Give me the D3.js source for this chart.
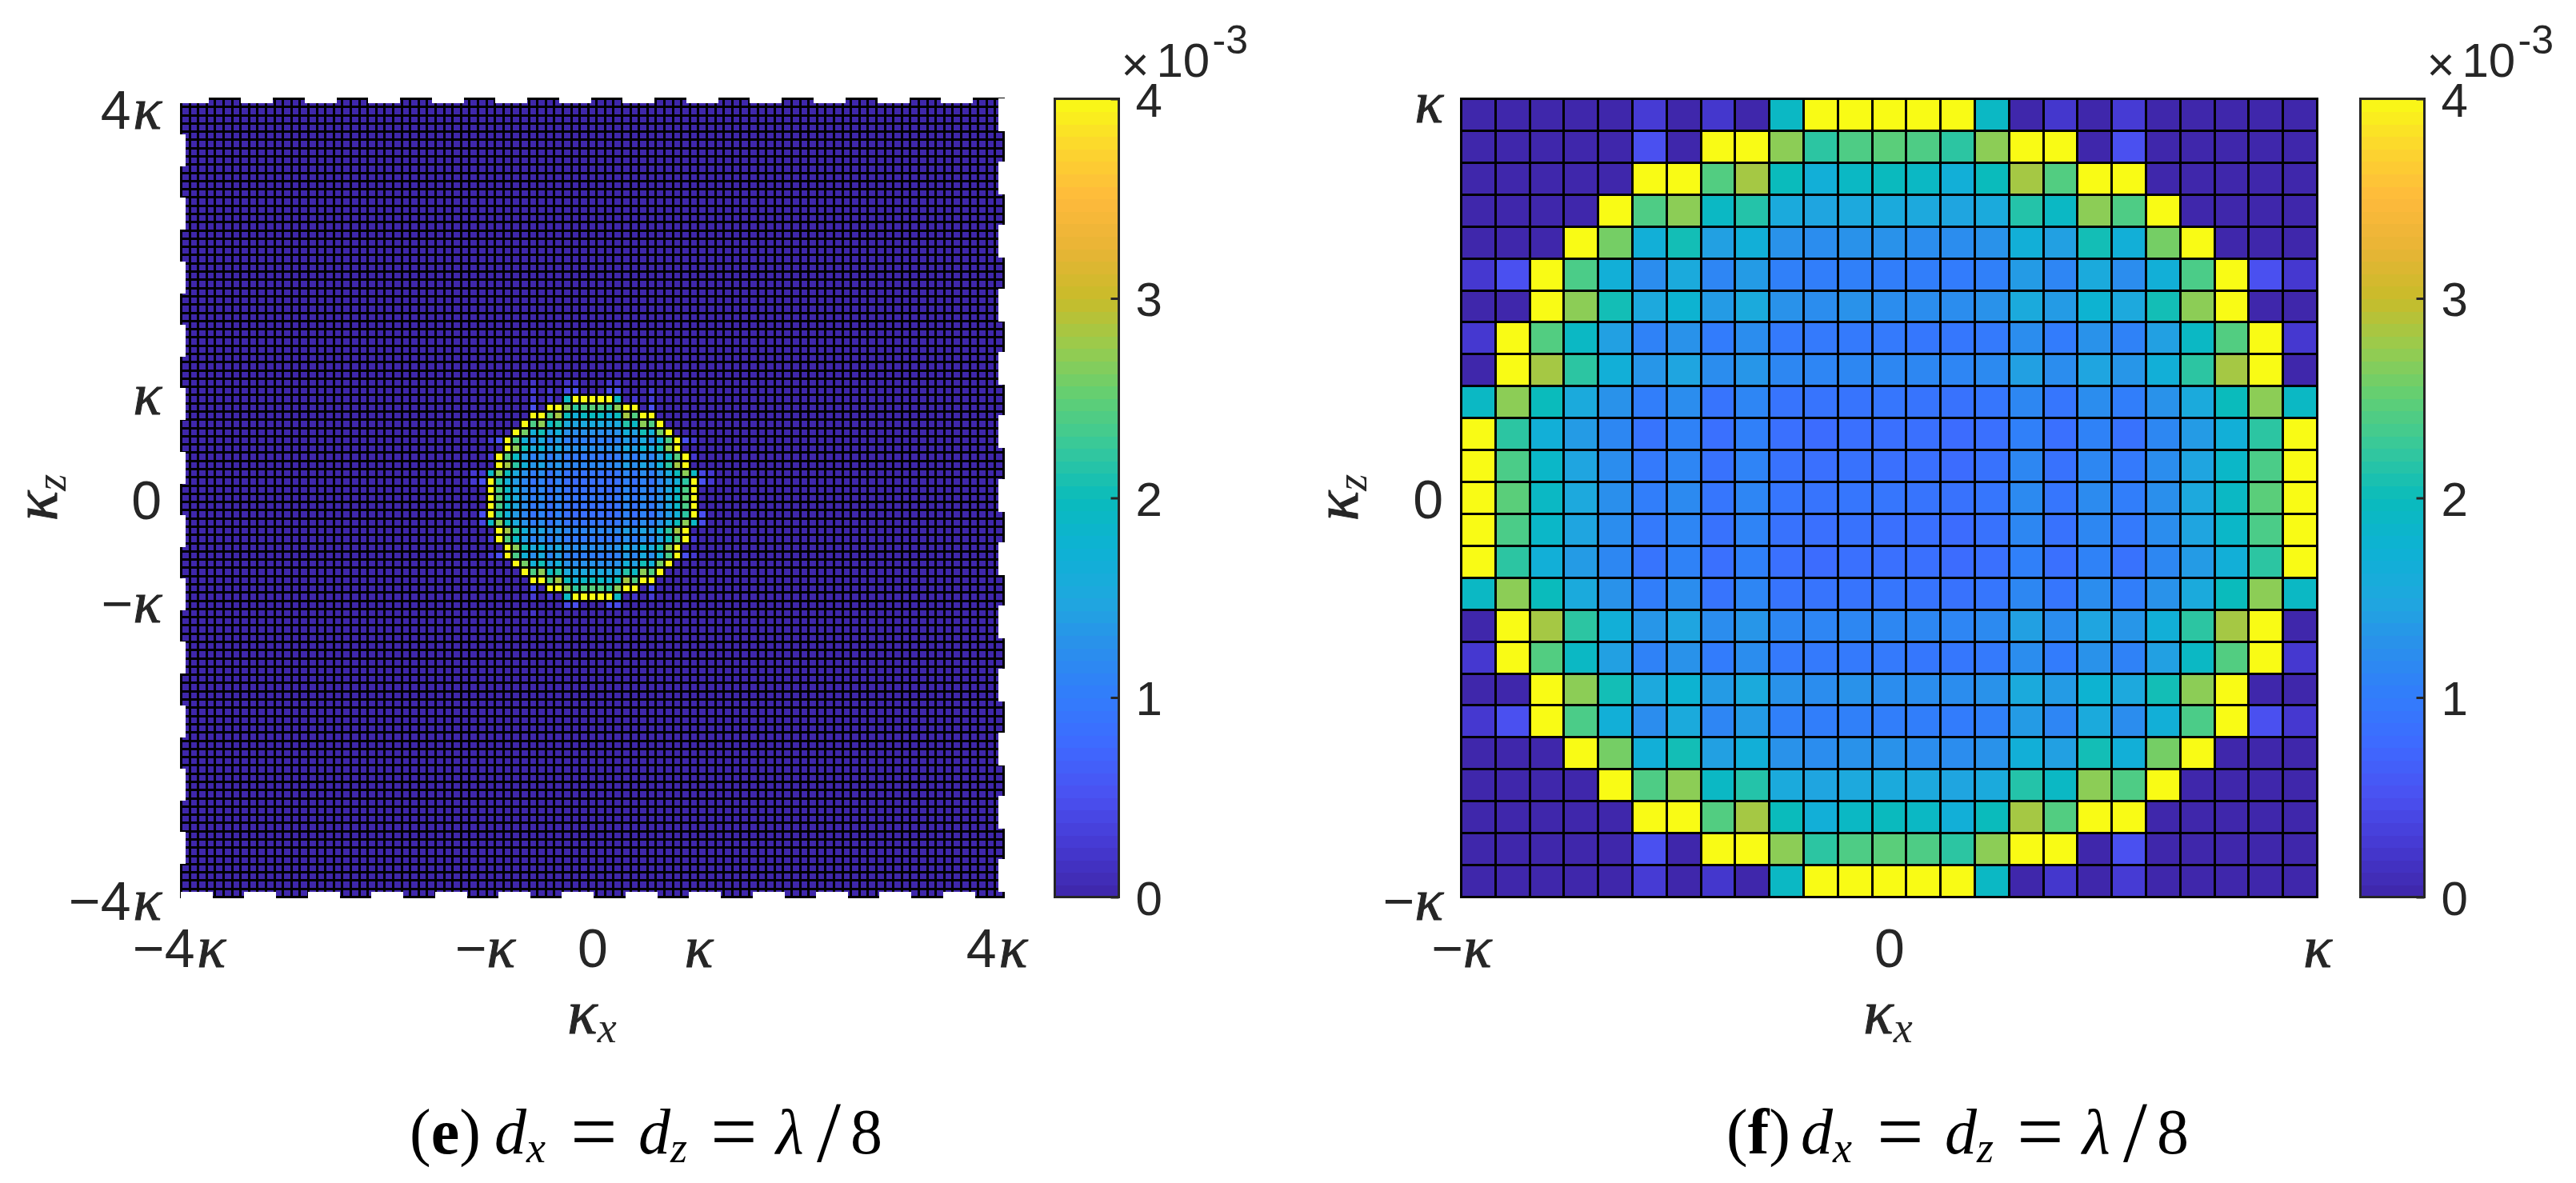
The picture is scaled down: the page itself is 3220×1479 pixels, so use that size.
<!DOCTYPE html>
<html>
<head>
<meta charset="utf-8">
<script src="https://cdn.jsdelivr.net/npm/d3@7"></script>
<style>
  html, body { margin: 0; padding: 0; background: #fff; }
  text { fill: #262626; }
</style>
</head>
<body>
<div id="chart"></div>
<script>
// colorbar stops, value in units of 1e-3
const colorValues = [0, 0.25, 0.5, 0.75, 1, 1.25, 1.5, 1.75, 2, 2.25, 2.5, 2.75, 3, 3.25, 3.5, 3.75, 4];
const colorStops = ["#3e26a8", "#4538d0", "#4a50f0", "#3f68ff", "#327cfc", "#2a8fec", "#1ea8de", "#0db2d4",
  "#0abbbc", "#35c89c", "#5fcf75", "#97cc4e", "#c8bc2a", "#e8b435", "#feba3c", "#fcd52e", "#f9fb15"];
const colorbarTicks = [0, 1, 2, 3, 4];

// panel (f), 25 x 25 cells, top row first
const panelFValues = [
  [.02,.02,.02,.02,.02,.28,.02,.23,.02,1.92,4,4,4,4,4,1.92,.02,.23,.02,.28,.02,.02,.02,.02,.02],
  [.02,.02,.02,.02,.02,.5,.02,4,4,2.7,2.2,2.4,2.47,2.4,2.2,2.7,4,4,.02,.5,.02,.02,.02,.02,.02],
  [.02,.02,.02,.02,.02,4,4,2.42,2.82,2.0,1.68,1.92,1.98,1.92,1.68,2.0,2.82,2.42,4,4,.02,.02,.02,.02,.02],
  [.02,.02,.02,.02,4,2.4,2.7,1.92,2.15,1.55,1.47,1.52,1.55,1.52,1.47,1.55,2.15,1.92,2.7,2.4,4,.02,.02,.02,.02],
  [.02,.02,.02,4,2.6,1.68,2.05,1.42,1.68,1.28,1.22,1.28,1.28,1.22,1.22,1.28,1.68,1.42,2.05,1.68,2.6,4,.02,.02,.02],
  [.25,.5,4,2.38,1.68,1.22,1.55,1.13,1.37,1.05,1.03,1.05,1.03,1.03,1.0,1.05,1.37,1.13,1.55,1.22,1.68,2.38,4,.5,.25],
  [.02,.02,4,2.7,2.05,1.52,1.78,1.37,1.55,1.28,1.22,1.28,1.22,1.22,1.22,1.28,1.55,1.37,1.78,1.52,2.05,2.7,4,.02,.02],
  [.25,4,2.42,1.92,1.42,1.08,1.28,1.0,1.22,.97,.97,.97,.97,.94,.94,.97,1.22,1.0,1.28,1.08,1.42,1.92,2.42,4,.25],
  [.02,4,2.82,2.2,1.68,1.32,1.47,1.22,1.32,1.15,1.13,1.15,1.15,1.15,1.13,1.18,1.42,1.22,1.47,1.32,1.68,2.2,2.82,4,.02],
  [1.92,2.7,2.0,1.55,1.28,1.03,1.22,.9,1.13,.9,.9,.9,.92,.9,.88,.92,1.15,.92,1.22,1.03,1.28,1.55,2.0,2.7,1.92],
  [4,2.2,1.68,1.37,1.15,.9,1.08,.85,1.05,.85,.8,.85,.85,.85,.8,.85,1.05,.85,1.08,.88,1.15,1.37,1.68,2.2,4],
  [4,2.38,1.88,1.47,1.22,.97,1.13,.88,1.1,.88,.85,.88,.85,.85,.8,.88,1.15,.88,1.15,.97,1.22,1.47,1.88,2.38,4],
  [4,2.47,1.92,1.52,1.25,1.03,1.18,.92,1.13,.92,.9,.92,.92,.9,.88,.92,1.18,.92,1.2,1.03,1.25,1.52,1.92,2.47,4],
  [4,2.38,1.88,1.47,1.22,.97,1.13,.88,1.1,.88,.85,.88,.85,.85,.8,.88,1.15,.88,1.15,.97,1.22,1.47,1.88,2.38,4],
  [4,2.2,1.68,1.37,1.15,.9,1.08,.85,1.05,.85,.8,.85,.85,.85,.8,.85,1.05,.85,1.08,.88,1.15,1.37,1.68,2.2,4],
  [1.92,2.7,2.0,1.55,1.28,1.03,1.22,.9,1.13,.9,.9,.9,.92,.9,.88,.92,1.15,.92,1.22,1.03,1.28,1.55,2.0,2.7,1.92],
  [.02,4,2.82,2.2,1.68,1.32,1.47,1.22,1.32,1.15,1.13,1.15,1.15,1.15,1.13,1.18,1.42,1.22,1.47,1.32,1.68,2.2,2.82,4,.02],
  [.25,4,2.42,1.92,1.42,1.08,1.28,1.0,1.22,.97,.97,.97,.97,.94,.94,.97,1.22,1.0,1.28,1.08,1.42,1.92,2.42,4,.25],
  [.02,.02,4,2.7,2.05,1.52,1.78,1.37,1.55,1.28,1.22,1.28,1.22,1.22,1.22,1.28,1.55,1.37,1.78,1.52,2.05,2.7,4,.02,.02],
  [.25,.5,4,2.38,1.68,1.22,1.55,1.13,1.37,1.05,1.03,1.05,1.03,1.03,1.0,1.05,1.37,1.13,1.55,1.22,1.68,2.38,4,.5,.25],
  [.02,.02,.02,4,2.6,1.68,2.05,1.42,1.68,1.28,1.22,1.28,1.28,1.22,1.22,1.28,1.68,1.42,2.05,1.68,2.6,4,.02,.02,.02],
  [.02,.02,.02,.02,4,2.4,2.7,1.92,2.15,1.55,1.47,1.52,1.55,1.52,1.47,1.55,2.15,1.92,2.7,2.4,4,.02,.02,.02,.02],
  [.02,.02,.02,.02,.02,4,4,2.42,2.82,2.0,1.68,1.92,1.98,1.92,1.68,2.0,2.82,2.42,4,4,.02,.02,.02,.02,.02],
  [.02,.02,.02,.02,.02,.5,.02,4,4,2.7,2.2,2.4,2.47,2.4,2.2,2.7,4,4,.02,.5,.02,.02,.02,.02,.02],
  [.02,.02,.02,.02,.02,.28,.02,.23,.02,1.92,4,4,4,4,4,1.92,.02,.23,.02,.28,.02,.02,.02,.02,.02]
];

// panel (e) has 97 x 97 cells: flat dark level outside, the (f) block sits in the middle,
// plus the few slightly brighter cells just outside that block
const panelECellCount = 97;
const panelEBackground = 0.02;
const panelECentreOffset = 36;
const panelEExtraRows = [-2,-2,-2,-2,-2,-1,-1,-1,-1,-1,-1,-1,25,25,25,25,26, 9,10,14,15, 9,10, 9,10,14,15, 9,10];
const panelEExtraCols = [ 5, 9,10,14,15, 5, 7, 9,10,14,15,19, 9,10,14,15, 5,-1,-1,-1,-1,-2,-2,25,25,25,25,26,26];
const panelEExtraVals = [.2,.2,.22,.22,.2,.25,.23,.4,.5,.45,.45,.25,.4,.5,.45,.45,.2,.25,.5,.5,.4,.25,.25,.4,.5,.5,.45,.25,.25];

const panelETicks = [-4, -1, 0, 1, 4];
const panelETickLabels = ["−4κ", "−κ", "0", "κ", "4κ"];
const panelFTicks = [-1, 0, 1];
const panelFTickLabels = ["−κ", "0", "κ"];

const width = 3220;
const height = 1479;
const ink = "#262626";
const sans = "'Liberation Sans'";
const serif = "'Liberation Serif'";

const svg = d3.select("#chart").append("svg")
  .attr("width", width)
  .attr("height", height)
  .style("display", "block")
  .style("background", "#fff");

const color = d3.scaleLinear().domain(colorValues).range(colorStops).clamp(true);

function panelEMatrix() {
  const rows = d3.range(panelECellCount).map(() => d3.range(panelECellCount).map(() => panelEBackground));
  panelFValues.forEach((row, r) => row.forEach((v, c) => {
    rows[r + panelECentreOffset][c + panelECentreOffset] = v;
  }));
  panelEExtraVals.forEach((v, i) => {
    rows[panelEExtraRows[i] + panelECentreOffset][panelEExtraCols[i] + panelECentreOffset] = v;
  });
  return rows;
}

function drawCells(matrix, x0, x1, y0, y1) {
  const n = matrix.length;
  const colScale = d3.scaleBand().domain(d3.range(n)).range([x0, x1]);
  const rowScale = d3.scaleBand().domain(d3.range(n)).range([y0, y1]);
  const cells = [];
  matrix.forEach((row, r) => row.forEach((v, c) => cells.push({ r, c, v })));
  svg.append("g")
    .attr("shape-rendering", "crispEdges")
    .selectAll("rect")
    .data(cells)
    .join("rect")
    .attr("x", (d) => colScale(d.c))
    .attr("y", (d) => rowScale(d.r))
    .attr("width", colScale.bandwidth())
    .attr("height", rowScale.bandwidth())
    .attr("fill", (d) => color(d.v))
    .attr("stroke", "#000")
    .attr("stroke-width", 3);
}

// white bites out of the frame of panel (e), as in the original export
function drawNotches() {
  const g = svg.append("g").attr("fill", "#fff").attr("shape-rendering", "crispEdges");
  const top = d3.range(-1, 12).map((k) => [301 + 79.55 * k, 118, 40, 11]);
  const bottom = d3.range(0, 13).map((k) => [226 + 79.4 * k, 1115, 40, 12]);
  const left = d3.range(0, 12).map((k) => [220, 168 + 79.3 * k, 12, 40]);
  const right = d3.range(-1, 12).map((k) => [1248, 202 + 79.3 * k, 12, 41]);
  g.selectAll("rect")
    .data(top.concat(bottom, left, right))
    .join("rect")
    .attr("x", (d) => d[0])
    .attr("y", (d) => d[1])
    .attr("width", (d) => d[2])
    .attr("height", (d) => d[3]);
}

function fillTickLabel(node, label, size) {
  const t = d3.select(node).text(null);
  const hasKappa = label.endsWith("κ");
  const prefix = hasKappa ? label.slice(0, -1) : label;
  if (prefix) t.append("tspan").attr("font-family", sans).attr("font-size", size).text(prefix);
  if (hasKappa) {
    t.append("tspan")
      .attr("font-family", serif)
      .attr("font-style", "italic")
      .attr("font-size", size + 6)
      .attr("dx", prefix.endsWith("4") ? 3 : 0)
      .attr("stroke", ink)
      .attr("stroke-width", 1)
      .text("κ");
  }
}

function drawAxes(opts) {
  const x = d3.scaleLinear().domain(opts.domain).range([opts.x0, opts.x1]);
  const y = d3.scaleLinear().domain(opts.domain).range([opts.y1, opts.y0]);

  const gx = svg.append("g")
    .attr("transform", "translate(0," + opts.y1 + ")")
    .call(d3.axisBottom(x).tickValues(opts.ticks).tickSize(0)
      .tickFormat((d, i) => opts.labels[i]));
  gx.select(".domain").remove();
  gx.selectAll("text")
    .attr("text-anchor", "middle")
    .attr("dy", null)
    .attr("x", (d, i) => opts.xLabelShift[i])
    .attr("y", 1208.5 - opts.y1)
    .each(function (d, i) { fillTickLabel(this, opts.labels[i], 68); });

  const gy = svg.append("g")
    .attr("transform", "translate(" + opts.yLabelRight + ",0)")
    .call(d3.axisLeft(y).tickValues(opts.ticks).tickSize(0)
      .tickPadding(0).tickFormat((d, i) => opts.labels[i]));
  gy.select(".domain").remove();
  gy.selectAll("text")
    .attr("text-anchor", "end")
    .attr("dy", null)
    .attr("x", 0)
    .attr("y", (d, i) => opts.yLabelShift[i])
    .each(function (d, i) { fillTickLabel(this, opts.labels[i], 68); });
}

function drawColorbar(x0, x1) {
  const scale = d3.scaleLinear().domain([0, 4]).range([1121.5, 123.5]);
  const bands = d3.range(0, 4, 4 / 64);
  const g = svg.append("g");
  g.append("g")
    .attr("shape-rendering", "crispEdges")
    .selectAll("rect")
    .data(bands)
    .join("rect")
    .attr("x", x0)
    .attr("width", x1 - x0)
    .attr("y", (d) => scale(d + 4 / 64))
    .attr("height", scale(0) - scale(4 / 64) + 1)
    .attr("fill", (d) => color(d + 2 / 64));
  g.append("rect")
    .attr("x", x0).attr("y", 123.5)
    .attr("width", x1 - x0).attr("height", 998)
    .attr("fill", "none").attr("stroke", ink).attr("stroke-width", 3);

  const axis = g.append("g")
    .attr("transform", "translate(" + x1 + ",0)")
    .call(d3.axisRight(scale).tickValues(colorbarTicks).tickFormat(d3.format("d"))
      .tickSize(-10).tickPadding(20));
  axis.select(".domain").remove();
  axis.selectAll("line").attr("stroke", ink).attr("stroke-width", 3);
  axis.selectAll("text")
    .attr("dy", "0.36em")
    .attr("x", 21)
    .attr("font-family", sans)
    .attr("font-size", 60);

  // x10^-3 above the bar
  const t = g.append("g").attr("font-family", sans);
  t.append("text").attr("x", x1 + 3).attr("y", 101).attr("font-size", 60).text("×");
  t.append("text").attr("x", x1 + 47).attr("y", 96).attr("font-size", 60).text("10");
  t.append("text").attr("x", x1 + 117).attr("y", 67).attr("font-size", 50).text("-3");
}

function drawKappaLabel(x, y, sub, rotate) {
  const g = svg.append("g")
    .attr("transform", "translate(" + x + "," + y + ")" + (rotate ? " rotate(-90)" : ""));
  const t = g.append("text")
    .attr("font-family", serif)
    .attr("font-style", "italic")
    .attr("text-anchor", "middle");
  t.append("tspan").attr("font-size", 78).attr("stroke", ink).attr("stroke-width", 1).text("κ");
  t.append("tspan").attr("font-size", 54).attr("dy", 11).text(sub);
}

function drawCaption(x0, letter, x1) {
  const g = svg.append("g").attr("font-family", serif).style("fill", "#000");
  const put = (x, y, s, opt) => {
    const o = opt || {};
    g.append("text")
      .attr("x", x).attr("y", y)
      .attr("font-style", o.italic ? "italic" : "normal")
      .attr("font-size", o.size || 80)
      .style("fill", "#000")
      .text(s);
  };
  const base = 1442;
  const t = g.append("text").attr("x", x0).attr("y", base).attr("font-size", 80).style("fill", "#000");
  t.append("tspan").text("(");
  t.append("tspan").attr("font-weight", "bold").text(letter);
  t.append("tspan").text(")");
  put(x1, base, "d", { italic: true });
  put(x1 + 40, base + 11, "x", { italic: true, size: 54 });
  put(x1 + 95, base + 8, "=", { size: 104 });
  put(x1 + 180, base, "d", { italic: true });
  put(x1 + 220, base + 11, "z", { italic: true, size: 54 });
  put(x1 + 270, base + 8, "=", { size: 104 });
  put(x1 + 352, base, "λ", { italic: true });
  put(x1 + 403, base + 10, "/", { size: 108 });
  put(x1 + 445, base, "8");
}

// panel (e)
drawCells(panelEMatrix(), 226.5, 1254.5, 123.5, 1121.5);
drawNotches();
drawAxes({
  domain: [-4, 4],
  ticks: panelETicks,
  labels: panelETickLabels,
  x0: 226.5, x1: 1254.5, y0: 123.5, y1: 1121.5,
  xLabelShift: [-3, -6, 0, 4, -9],
  yLabelShift: [28, 30, 26, 20, 37],
  yLabelRight: 202
});
drawColorbar(1318.5, 1398.5);
drawKappaLabel(740, 1292, "x", false);
drawKappaLabel(71, 622, "z", true);
drawCaption(512, "e", 618);

// panel (f)
drawCells(panelFValues, 1826.5, 2896.5, 123.5, 1121.5);
drawAxes({
  domain: [-1, 1],
  ticks: panelFTicks,
  labels: panelFTickLabels,
  x0: 1826.5, x1: 2896.5, y0: 123.5, y1: 1121.5,
  xLabelShift: [0, 0, 0],
  yLabelShift: [28, 25, 28.5],
  yLabelRight: 1804
});
drawColorbar(2950.5, 3030.5);
drawKappaLabel(2360, 1292, "x", false);
drawKappaLabel(1697, 622, "z", true);
drawCaption(2158, "f", 2251);
</script>
</body>
</html>
